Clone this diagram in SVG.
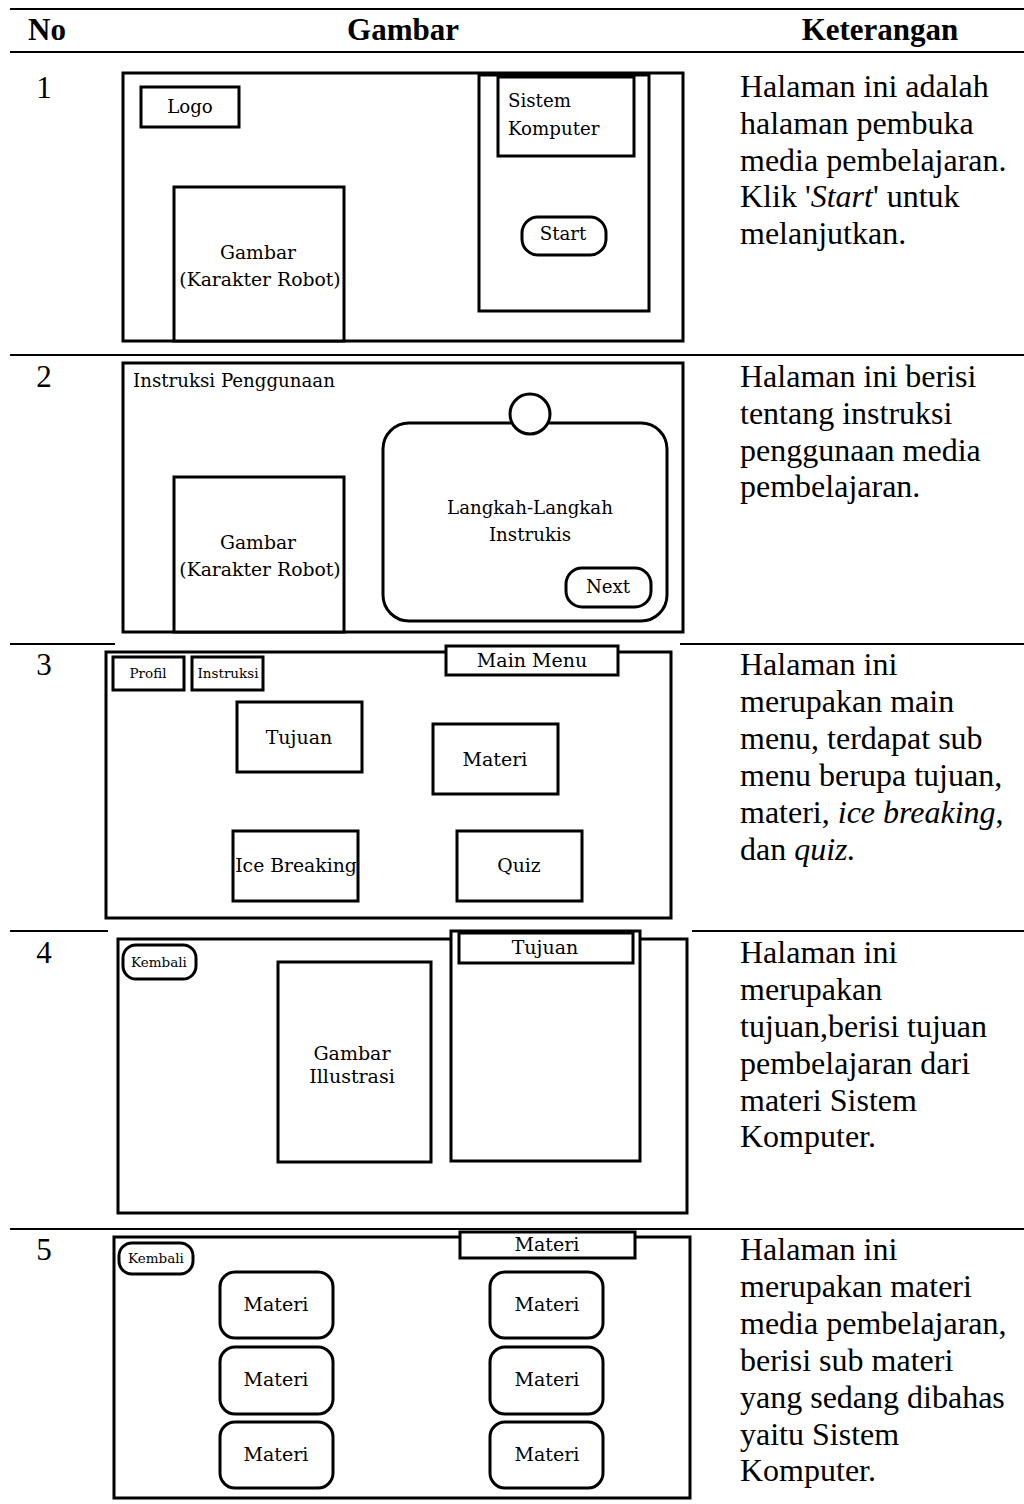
<svg xmlns="http://www.w3.org/2000/svg" width="1024" height="1504" viewBox="0 0 1024 1504">
<style>
.rule{stroke:#000;stroke-width:2;fill:none}
.box{fill:#fff;stroke:#000;stroke-width:3}
.hd{font-family:"Liberation Serif","Times New Roman",serif;font-weight:bold;font-size:31px;fill:#000}
.num{font-family:"Liberation Serif","Times New Roman",serif;font-size:31px;fill:#000;text-anchor:middle}
.desc{font-family:"Liberation Serif","Times New Roman",serif;font-size:32px;fill:#000}
.w{font-family:"DejaVu Serif",serif;font-size:18.2px;fill:#000;text-anchor:middle}
.wk{font-family:"DejaVu Serif",serif;font-size:18.8px;fill:#000;text-anchor:middle}
.wl{font-family:"DejaVu Serif",serif;font-size:18.2px;fill:#000}
.wb{font-family:"DejaVu Serif",serif;font-size:19px;fill:#000;text-anchor:middle}
.ws{font-family:"DejaVu Serif",serif;font-size:13.5px;fill:#000;text-anchor:middle}
</style>
<rect width="1024" height="1504" fill="#fff"/>
<g id="table-rules">
<line class="rule" x1="10" y1="9" x2="1024" y2="9"/>
<line class="rule" x1="10" y1="52" x2="1024" y2="52"/>
<line class="rule" x1="10" y1="355" x2="1024" y2="355"/>
<line class="rule" x1="10" y1="644" x2="115" y2="644"/>
<line class="rule" x1="680" y1="644" x2="1024" y2="644"/>
<line class="rule" x1="10" y1="931" x2="108" y2="931"/>
<line class="rule" x1="692" y1="931" x2="1024" y2="931"/>
<line class="rule" x1="10" y1="1229" x2="1024" y2="1229"/>
</g>
<g id="header">
<text class="hd" x="28" y="40">No</text>
<text class="hd" x="403" y="40" text-anchor="middle">Gambar</text>
<text class="hd" x="880" y="40" text-anchor="middle">Keterangan</text>
</g>
<g id="numbers">
<text class="num" x="44" y="98">1</text>
<text class="num" x="44" y="387">2</text>
<text class="num" x="44" y="675">3</text>
<text class="num" x="44" y="963">4</text>
<text class="num" x="44" y="1260">5</text>
</g>
<g id="row1">
<rect class="box" x="123" y="73" width="560" height="268"/>
<g id="r1-logo"><rect class="box" x="141" y="87" width="98" height="40"/><text class="w" x="190" y="113">Logo</text></g>
<g id="r1-gambar"><rect class="box" x="174" y="187" width="170" height="154"/><text class="wk" x="258" y="259">Gambar</text><text class="wk" x="260" y="286">(Karakter Robot)</text></g>
<g id="r1-panel"><rect class="box" x="479" y="75" width="170" height="236"/></g>
<g id="r1-title"><rect class="box" x="498" y="77" width="136" height="79"/><text class="wl" x="508" y="107">Sistem</text><text class="wl" x="508" y="135">Komputer</text></g>
<g id="r1-start"><rect class="box" x="522" y="217" width="84" height="38" rx="16"/><text class="w" x="563" y="240">Start</text></g>
</g>
<g id="row2">
<rect class="box" x="123" y="363" width="560" height="269"/>
<text class="wl" x="133" y="387">Instruksi Penggunaan</text>
<g id="r2-gambar"><rect class="box" x="174" y="477" width="170" height="155"/><text class="wk" x="258" y="549">Gambar</text><text class="wk" x="260" y="576">(Karakter Robot)</text></g>
<g id="r2-steps"><rect class="box" x="383" y="423" width="284" height="198" rx="26"/><text class="w" x="530" y="514">Langkah-Langkah</text><text class="w" x="530" y="541">Instrukis</text></g>
<g id="r2-circle"><circle class="box" cx="530" cy="414" r="20" stroke-width="2.5"/></g>
<g id="r2-next"><rect class="box" x="566" y="568" width="85" height="39" rx="16"/><text class="w" x="608" y="593">Next</text></g>
</g>
<g id="row3">
<rect class="box" x="106" y="652" width="565" height="266"/>
<g id="r3-mainmenu"><rect class="box" x="446" y="646" width="172" height="29"/><text class="wb" x="532" y="667">Main Menu</text></g>
<g id="r3-profil"><rect class="box" x="113" y="657" width="71" height="33"/><text class="ws" x="148" y="678">Profil</text></g>
<g id="r3-instruksi"><rect class="box" x="192" y="657" width="71" height="33"/><text class="ws" x="228" y="678">Instruksi</text></g>
<g id="r3-tujuan"><rect class="box" x="237" y="702" width="125" height="70"/><text class="wb" x="299" y="744">Tujuan</text></g>
<g id="r3-materi"><rect class="box" x="433" y="724" width="125" height="70"/><text class="wb" x="495" y="766">Materi</text></g>
<g id="r3-ice"><rect class="box" x="233" y="831" width="125" height="70"/><text class="wk" x="296" y="872">Ice Breaking</text></g>
<g id="r3-quiz"><rect class="box" x="457" y="831" width="125" height="70"/><text class="wk" x="519" y="872">Quiz</text></g>
</g>
<g id="row4">
<rect class="box" x="118" y="939" width="569" height="274"/>
<g id="r4-kembali"><rect class="box" x="123" y="945" width="73" height="34" rx="13"/><text class="ws" x="159" y="967">Kembali</text></g>
<g id="r4-gambar"><rect class="box" x="278" y="962" width="153" height="200"/><text class="wb" x="352" y="1060">Gambar</text><text class="wb" x="352" y="1083">Illustrasi</text></g>
<g id="r4-panel"><rect class="box" x="451" y="931" width="189" height="230"/></g>
<g id="r4-title"><rect class="box" x="459" y="933" width="174" height="30"/><text class="wb" x="545" y="954">Tujuan</text></g>
</g>
<g id="row5">
<rect class="box" x="114" y="1237" width="576" height="261"/>
<g id="r5-title"><rect class="box" x="460" y="1232" width="175" height="26"/><text class="wb" x="547" y="1251">Materi</text></g>
<g id="r5-kembali"><rect class="box" x="119" y="1243" width="74" height="31" rx="13"/><text class="ws" x="156" y="1263">Kembali</text></g>
<g id="r5-m1"><rect class="box" x="220" y="1272" width="113" height="66" rx="15"/><text class="wb" x="276" y="1311">Materi</text></g>
<g id="r5-m2"><rect class="box" x="220" y="1347" width="113" height="67" rx="15"/><text class="wb" x="276" y="1386">Materi</text></g>
<g id="r5-m3"><rect class="box" x="220" y="1422" width="113" height="66" rx="15"/><text class="wb" x="276" y="1461">Materi</text></g>
<g id="r5-m4"><rect class="box" x="490" y="1272" width="113" height="66" rx="15"/><text class="wb" x="547" y="1311">Materi</text></g>
<g id="r5-m5"><rect class="box" x="490" y="1347" width="113" height="67" rx="15"/><text class="wb" x="547" y="1386">Materi</text></g>
<g id="r5-m6"><rect class="box" x="490" y="1422" width="113" height="66" rx="15"/><text class="wb" x="547" y="1461">Materi</text></g>
</g>
<g id="descriptions">
<text class="desc" x="740" y="97">Halaman ini adalah</text>
<text class="desc" x="740" y="134">halaman pembuka</text>
<text class="desc" x="740" y="171">media pembelajaran.</text>
<text class="desc" x="740" y="207">Klik '<tspan font-style="italic">Start</tspan>' untuk</text>
<text class="desc" x="740" y="244">melanjutkan.</text>
<text class="desc" x="740" y="387">Halaman ini berisi</text>
<text class="desc" x="740" y="424">tentang instruksi</text>
<text class="desc" x="740" y="461">penggunaan media</text>
<text class="desc" x="740" y="497">pembelajaran.</text>
<text class="desc" x="740" y="675">Halaman ini</text>
<text class="desc" x="740" y="712">merupakan main</text>
<text class="desc" x="740" y="749">menu, terdapat sub</text>
<text class="desc" x="740" y="786">menu berupa tujuan,</text>
<text class="desc" x="740" y="823">materi, <tspan font-style="italic">ice breaking</tspan>,</text>
<text class="desc" x="740" y="860">dan <tspan font-style="italic">quiz.</tspan></text>
<text class="desc" x="740" y="963">Halaman ini</text>
<text class="desc" x="740" y="1000">merupakan</text>
<text class="desc" x="740" y="1037">tujuan,berisi tujuan</text>
<text class="desc" x="740" y="1074">pembelajaran dari</text>
<text class="desc" x="740" y="1111">materi Sistem</text>
<text class="desc" x="740" y="1147">Komputer.</text>
<text class="desc" x="740" y="1260">Halaman ini</text>
<text class="desc" x="740" y="1297">merupakan materi</text>
<text class="desc" x="740" y="1334">media pembelajaran,</text>
<text class="desc" x="740" y="1371">berisi sub materi</text>
<text class="desc" x="740" y="1408">yang sedang dibahas</text>
<text class="desc" x="740" y="1445">yaitu Sistem</text>
<text class="desc" x="740" y="1481">Komputer.</text>
</g>
</svg>
